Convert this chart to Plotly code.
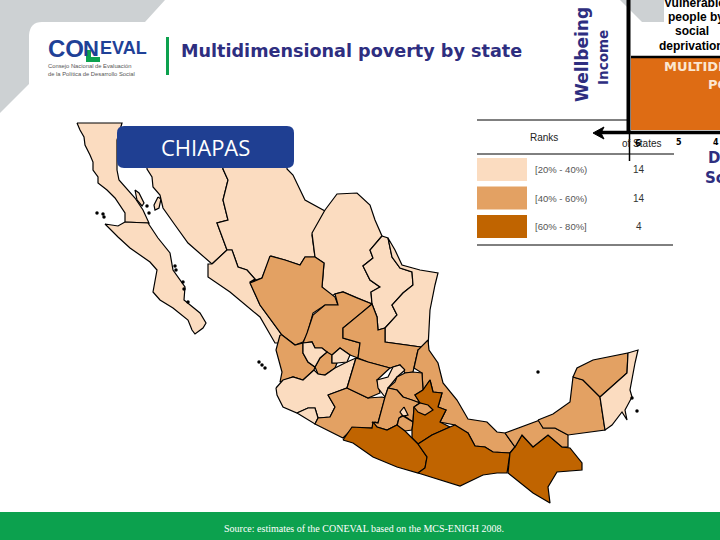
import plotly.graph_objects as go

# Ranks table
RANK_LABELS = ['[20% - 40%)', '[40% - 60%)', '[60% - 80%]']
RANK_COUNTS = [14, 14, 4]
RANK_COLORS = ['#fbdcc0', '#e3a163', '#c06400']

# rank index of every state
STATE_RANKS = {
    'Baja California': 0, 'Baja California Sur': 0, 'Sonora': 0, 'Chihuahua': 0,
    'Coahuila': 0, 'Sinaloa': 0, 'Nuevo Leon': 0, 'Tamaulipas': 0, 'Jalisco': 0,
    'Jalisco north': 0, 'Colima': 0, 'Aguascalientes': 0, 'Queretaro': 0,
    'Quintana Roo': 0, 'Angel de la Guarda': 0, 'Tiburon': 0,
    'Durango': 1, 'Zacatecas': 1, 'Zacatecas south': 1, 'Nayarit': 1,
    'San Luis Potosi': 1, 'Guanajuato': 1, 'Michoacan': 1, 'Hidalgo': 1, 'Mexico': 1,
    'Veracruz': 1, 'Tabasco': 1, 'Campeche': 1, 'Yucatan': 1,
    'Guerrero': 2, 'Oaxaca': 2, 'Puebla': 2, 'Chiapas': 2,
    'Distrito Federal': 0, 'Morelos': 1, 'Tlaxcala': 1,
}

# state outlines (x, y in page pixels)
STATE_OUTLINES = {
    'Baja California': [(77, 123), (122, 123), (117, 140), (117, 170), (119, 180), (125, 187), (135, 198), (143, 210),
                        (149, 223), (125, 222), (125, 213), (115, 198), (107, 190), (98, 183), (98, 177), (93, 170),
                        (93, 162), (90, 155), (85, 145), (84, 137), (80, 130)],
    'Baja California Sur': [(125, 222), (148, 223), (158, 238), (170, 253), (173, 270), (185, 287), (184, 300),
                            (200, 313), (206, 323), (203, 328), (195, 334), (192, 330), (188, 320), (173, 308),
                            (160, 300), (153, 292), (157, 270), (150, 262), (130, 248), (118, 237), (105, 224),
                            (118, 226)],
    'Angel de la Guarda': [(135, 190), (139, 193), (144, 203), (142, 206), (137, 200)],
    'Tiburon': [(158, 197), (161, 199), (159, 208), (155, 210), (154, 205)],
    'Sonora': [(147, 150), (223, 150), (223, 169), (228, 180), (223, 200), (228, 220), (217, 223), (227, 250),
               (212, 264), (202, 255), (188, 243), (175, 225), (163, 208), (160, 195), (153, 187), (152, 177), (147, 169)],
    'Chihuahua': [(223, 150), (287, 150), (287, 169), (293, 175), (305, 200), (325, 211), (312, 235), (315, 257),
                  (305, 257), (300, 265), (285, 260), (271, 256), (262, 278), (250, 282), (255, 279), (247, 270),
                  (238, 267), (232, 250), (227, 250), (217, 223), (228, 220), (223, 200), (228, 180), (223, 169)],
    'Coahuila': [(325, 210), (337, 194), (357, 193), (370, 205), (375, 220), (382, 236), (370, 250), (373, 258),
                 (363, 266), (370, 280), (380, 287), (371, 292), (372, 304), (357, 298), (343, 292), (335, 294),
                 (330, 297), (322, 287), (324, 263), (315, 257), (312, 233)],
    'Sinaloa': [(212, 264), (227, 250), (232, 250), (238, 267), (247, 270), (255, 279), (250, 282), (260, 305),
                (282, 335), (280, 343), (275, 343), (260, 317), (230, 292), (208, 277), (208, 264)],
    'Nuevo Leon': [(382, 236), (388, 238), (392, 257), (400, 268), (412, 272), (413, 285), (403, 293), (392, 305),
                   (397, 315), (385, 328), (378, 330), (377, 317), (372, 304), (371, 292), (380, 287), (370, 280),
                   (363, 266), (373, 258), (370, 250)],
    'Tamaulipas': [(388, 238), (395, 250), (402, 265), (420, 270), (438, 273), (435, 285), (430, 310), (428, 348),
                   (407, 345), (385, 342), (385, 328), (397, 315), (392, 305), (403, 293), (413, 285), (412, 272),
                   (400, 268), (392, 257)],
    'Durango': [(270, 256), (285, 260), (300, 265), (305, 257), (315, 257), (324, 263), (322, 287), (335, 297),
                (338, 305), (325, 305), (313, 313), (307, 335), (303, 342), (295, 345), (282, 335), (260, 305),
                (250, 283), (262, 278)],
    'Zacatecas': [(307, 333), (313, 315), (325, 305), (338, 305), (335, 294), (343, 292), (357, 298), (372, 304),
                  (363, 312), (343, 328), (343, 338), (360, 343), (358, 358), (350, 355), (340, 348), (332, 355),
                  (332, 363), (325, 360), (327, 352), (322, 348), (315, 348), (312, 342), (303, 343)],
    'Zacatecas south': [(315, 367), (320, 358), (327, 352), (332, 355), (332, 363), (337, 363), (335, 368), (325, 375), (318, 374)],
    'San Luis Potosi': [(372, 304), (377, 317), (378, 330), (385, 328), (385, 342), (407, 345), (428, 348), (418, 350),
                        (414, 368), (413, 372), (405, 373), (400, 365), (393, 367), (390, 368), (368, 362), (358, 358), (360, 343), (343, 338),
                        (343, 328), (363, 312)],
    'Nayarit': [(280, 335), (282, 335), (295, 345), (303, 343), (303, 353), (308, 362), (315, 367), (314, 370), (303, 380), (293, 377), (280, 382),
                (282, 372), (276, 350)],
    'Jalisco': [(276, 388), (283, 380), (293, 377), (303, 380), (314, 370), (318, 374), (325, 375), (335, 368),
                (347, 362), (356, 358), (347, 388), (328, 395), (335, 407), (330, 417), (318, 418), (315, 408),
                (308, 408), (297, 413), (283, 407), (277, 395)],
    'Jalisco north': [(303, 343), (312, 342), (315, 348), (322, 348), (327, 352), (320, 358), (315, 367), (308, 362),
                      (303, 353)],
    'Aguascalientes': [(332, 355), (340, 348), (350, 355), (347, 362), (337, 363), (332, 363)],
    'Colima': [(297, 413), (308, 408), (315, 408), (318, 418), (315, 424), (305, 418)],
    'Michoacan': [(328, 395), (347, 388), (368, 398), (382, 397), (385, 398), (382, 408), (378, 423), (375, 422),
                  (372, 428), (353, 428), (343, 438), (317, 425), (315, 424), (318, 418), (330, 417), (335, 407)],
    'Guanajuato': [(356, 358), (368, 362), (390, 368), (377, 380), (380, 393), (368, 398), (347, 388)],
    'Queretaro': [(405, 370), (400, 365), (393, 367), (388, 377), (377, 380), (378, 388), (385, 397), (388, 388),
                  (397, 377)],
    'Veracruz': [(428, 340), (429, 350), (438, 363), (443, 383), (457, 400), (468, 419), (487, 422), (497, 432),
                 (505, 433), (515, 447), (510, 453), (493, 452), (485, 447), (475, 446), (468, 433), (460, 430),
                 (455, 425), (440, 422), (446, 410), (438, 407), (442, 393), (433, 392), (430, 380), (423, 390), (422, 373),
                 (414, 368), (418, 350)],
    'Hidalgo': [(388, 388), (395, 382), (397, 377), (405, 373), (413, 372), (422, 373), (423, 390), (415, 395), (420, 403),
                (412, 400), (403, 397), (397, 390)],
    'Mexico': [(385, 397), (388, 388), (397, 390), (403, 397), (412, 400), (420, 403), (414, 407), (413, 422),
               (403, 415), (399, 418), (397, 425), (387, 430), (377, 427), (372, 422), (378, 423), (382, 408)],
    'Distrito Federal': [(404, 407), (408, 415), (403, 416), (400, 412)],
    'Morelos': [(399, 418), (403, 416), (413, 422), (412, 430), (405, 431), (397, 426)],
    'Puebla': [(423, 390), (430, 380), (433, 392), (442, 393), (438, 407), (446, 410), (440, 422), (450, 427),
               (432, 435), (418, 444), (412, 438), (412, 430), (413, 422), (414, 407), (420, 403), (415, 395)],
    'Tlaxcala': [(414, 407), (420, 403), (428, 405), (433, 410), (425, 415), (418, 412)],
    'Guerrero': [(343, 440), (352, 427), (372, 428), (373, 422), (377, 427), (387, 430), (397, 425), (405, 431),
                 (412, 438), (418, 444), (427, 457), (425, 468), (418, 473), (397, 467), (373, 457), (353, 443)],
    'Oaxaca': [(418, 444), (432, 435), (450, 427), (455, 425), (468, 433), (475, 446), (485, 447), (493, 452),
               (510, 453), (507, 473), (497, 473), (483, 475), (460, 486), (447, 482), (418, 473), (425, 468),
               (427, 457)],
    'Chiapas': [(510, 453), (515, 447), (522, 435), (533, 447), (548, 435), (562, 447), (570, 448), (582, 463),
                (582, 470), (557, 472), (548, 487), (550, 503), (533, 493), (508, 473)],
    'Tabasco': [(505, 433), (533, 422), (540, 420), (543, 428), (555, 428), (568, 435), (568, 447), (562, 447),
                (548, 435), (533, 447), (522, 435), (515, 447)],
    'Campeche': [(538, 420), (553, 414), (570, 402), (573, 377), (583, 380), (600, 397), (605, 430), (568, 435),
                 (555, 428), (543, 428)],
    'Yucatan': [(573, 377), (577, 368), (593, 360), (628, 353), (627, 373), (600, 397), (583, 380)],
    'Quintana Roo': [(628, 353), (638, 350), (635, 363), (630, 390), (632, 397), (625, 410), (627, 420), (622, 412),
                     (612, 425), (605, 430), (600, 397), (627, 373)],
}

# small islands
ISLAND_X = [97, 103, 104, 147, 149, 175, 176, 183, 184, 188, 259, 262, 265, 538, 632, 637]
ISLAND_Y = [213, 214, 217, 206, 213, 266, 270, 282, 289, 302, 362, 365, 368, 372, 398, 411]

fig = go.Figure()

for name, outline in STATE_OUTLINES.items():
    fig.add_trace(go.Scatter(x=[p[0] for p in outline] + [outline[0][0]],
                             y=[p[1] for p in outline] + [outline[0][1]],
                             mode='lines',
                             fill='toself',
                             fillcolor=RANK_COLORS[STATE_RANKS[name]],
                             line={'color': 'black', 'width': 1.2},
                             name=name,
                             showlegend=False))

fig.add_trace(go.Scatter(x=ISLAND_X, y=ISLAND_Y, mode='markers',
                         marker={'color': 'black', 'size': 3.5},
                         showlegend=False, name='islands'))

BLUE = '#2e2e80'
GREEN = '#0ca14e'

shapes = [
    # grey page corner
    dict(type='path', path='M0,0 L165,0 L145,22 L42,22 Q30,22 29,35 L29,84 L0,113 Z',
         fillcolor='#cdd1d3', line_width=0, layer='below'),
    dict(type='path', path='M620,0 L642,22 L664,22 L664,0 Z', fillcolor='#cdd1d3', line_width=0, layer='below'),
    # footer
    dict(type='rect', x0=0, x1=720, y0=512, y1=540, fillcolor=GREEN, line_width=0),
    # title divider
    dict(type='rect', x0=166, x1=169, y0=37, y1=75, fillcolor=GREEN, line_width=0),
    # green leg of the logo n
    dict(type='path', path='M86,50 L91,50 L91,57 L100,57 L100,62 L86,62 Z', fillcolor=GREEN, line_width=0),
    # state name box
    dict(type='path', path='M124,126 L287,126 Q294,126 294,133 L294,161 Q294,168 287,168 '
                           'L124,168 Q117,168 117,161 L117,133 Q117,126 124,126 Z',
         fillcolor='#1f3f92', line_width=0),
    # cropped diagram on the right
    dict(type='rect', x0=631, x1=720, y0=58, y1=130, fillcolor='#de6c14', line_width=0),
    dict(type='line', x0=628.5, x1=628.5, y0=0, y1=134, line={'color': 'black', 'width': 4}),
    dict(type='line', x0=631, x1=720, y0=57, y1=57, line={'color': 'black', 'width': 2.5}),
    dict(type='line', x0=597, x1=720, y0=132.5, y1=132.5, line={'color': 'black', 'width': 3.5}),
    dict(type='path', path='M593,133 L604,127 L601,133 L604,139 Z', fillcolor='black',
         line={'color': 'black', 'width': 1}),
    dict(type='line', x0=629.5, x1=629.5, y0=134, y1=161, line={'color': 'black', 'width': 1.5}),
    # ranks table rules
    dict(type='line', x0=477, x1=629, y0=120, y1=120, line={'color': 'black', 'width': 1}),
    dict(type='line', x0=477, x1=674, y0=154, y1=154, line={'color': 'black', 'width': 1}),
    dict(type='line', x0=477, x1=673, y0=245, y1=245, line={'color': 'black', 'width': 1}),
]

# legend swatches
for i, color in enumerate(RANK_COLORS):
    shapes.append(dict(type='rect', x0=477, x1=527, y0=158 + i * 28.5, y1=181 + i * 28.5,
                       fillcolor=color, line_width=0))


def add_text(text, x, y, size, color='black', family='DejaVu Sans', bold=False, anchor='left', angle=0):
    fig.add_annotation(x=x, y=y, text='<b>%s</b>' % text if bold else text, showarrow=False,
                       xanchor=anchor, yanchor='middle', textangle=angle,
                       font={'size': size, 'color': color, 'family': family}, xref='x', yref='y')


add_text('Multidimensional poverty by state', 179, 51, 17.6, BLUE, bold=True)
add_text('Wellbeing', 582, 55, 17, BLUE, bold=True, anchor='center', angle=-90)
add_text('Income', 603, 58, 13.5, BLUE, bold=True, anchor='center', angle=-90)

add_text('CO', 46, 48, 24, '#1f4197', 'Liberation Sans', bold=True)
add_text('N', 81, 48, 22, '#1f4197', 'Liberation Sans', bold=True)
add_text('EVAL', 98, 48, 18, '#1f4197', 'Liberation Sans', bold=True)
add_text('Consejo Nacional de Evaluación', 46, 66, 5.8, '#555555', 'Liberation Sans')
add_text('de la Política de Desarrollo Social', 46, 74, 5.8, '#555555', 'Liberation Sans')

add_text('CHIAPAS', 205, 147, 22, 'white', 'Open Sans', anchor='center')
add_text('Source: estimates of the CONEVAL based on the MCS-ENIGH 2008.', 364, 528, 10, 'white',
         'Liberation Serif', anchor='center')

add_text('Ranks', 528, 137, 10, '#222222', 'Liberation Sans')
add_text('of States', 641, 143, 10, '#222222', 'Liberation Sans', anchor='center')
add_text('6', 638, 143, 9, 'black', bold=True, anchor='center')
add_text('5', 679, 142, 8, 'black', bold=True, anchor='center')
add_text('4', 716, 142, 8, 'black', bold=True, anchor='center')
for i, (label, count) in enumerate(zip(RANK_LABELS, RANK_COUNTS)):
    add_text(label, 533, 169.5 + i * 28.5, 9.5, '#555555', 'Liberation Sans')
    add_text(str(count), 639, 169.5 + i * 28.5, 10, '#333333', 'Liberation Sans', anchor='center')

add_text('Vulnerable', 662, 3, 12, 'black', 'Liberation Sans', bold=True)
add_text('people by', 666, 17, 12, 'black', 'Liberation Sans', bold=True)
add_text('social', 692, 31, 12, 'black', 'Liberation Sans', bold=True, anchor='center')
add_text('deprivation', 657, 46, 12, 'black', 'Liberation Sans', bold=True)
add_text('MULTIDIMENSIONAL', 662, 66, 13, '#fbe6d0', 'DejaVu Sans', bold=True)
add_text('POVERTY', 706, 84, 13, '#fbe6d0', 'DejaVu Sans', bold=True)
add_text('Deprivation', 706, 158, 15, BLUE, bold=True)
add_text('Social', 703, 178, 15, BLUE, bold=True)

fig.update_layout(width=720, height=540, margin=dict(l=0, r=0, t=0, b=0),
                  paper_bgcolor='white', plot_bgcolor='white', shapes=shapes, showlegend=False)
fig.update_xaxes(range=[0, 720], visible=False, fixedrange=True)
fig.update_yaxes(range=[540, 0], visible=False, fixedrange=True)

# the page's default body margin would shift everything by 8px
fig.write_html("out.html", config={'displayModeBar': False},
               post_script="document.body.style.margin='0';document.body.style.overflow='hidden';")
